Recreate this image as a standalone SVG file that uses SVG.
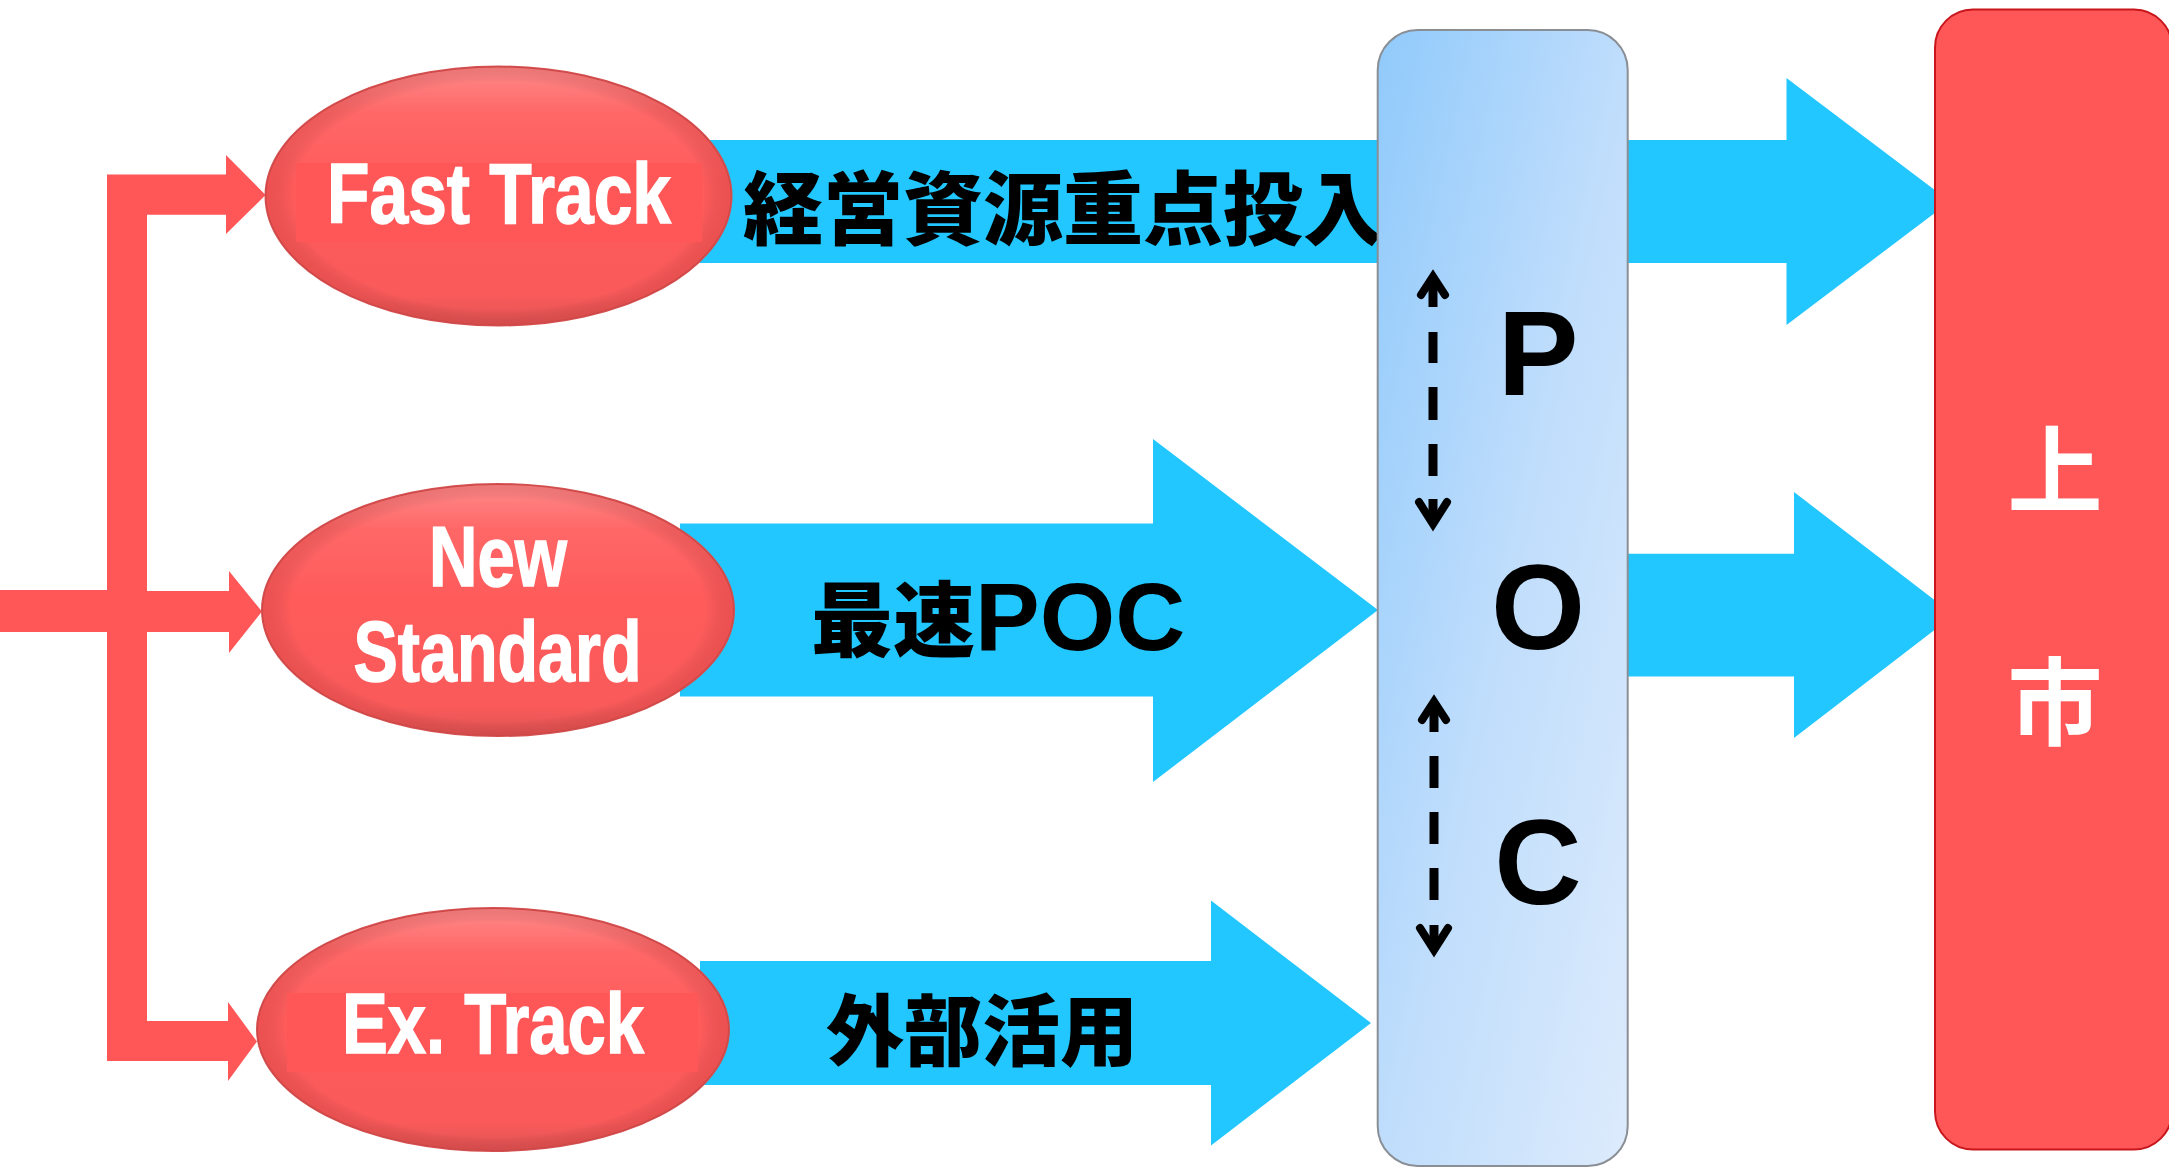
<svg xmlns="http://www.w3.org/2000/svg" width="2169" height="1168" viewBox="0 0 2169 1168">
  <defs>
    <linearGradient id="ellGrad" x1="0" y1="0" x2="0" y2="1">
      <stop offset="0" stop-color="#FF8A8A"/>
      <stop offset="0.18" stop-color="#FF6767"/>
      <stop offset="0.45" stop-color="#FF5B5B"/>
      <stop offset="0.88" stop-color="#FA5A5A"/>
      <stop offset="1" stop-color="#E25454"/>
    </linearGradient>
    <radialGradient id="ellEdge" cx="0.5" cy="0.5" r="0.5">
      <stop offset="0.88" stop-color="#000" stop-opacity="0"/>
      <stop offset="1" stop-color="#A02020" stop-opacity="0.18"/>
    </radialGradient>
    <linearGradient id="pocGrad" x1="0" y1="0" x2="1" y2="1">
      <stop offset="0" stop-color="#90CAFB"/>
      <stop offset="0.5" stop-color="#BFDDFC"/>
      <stop offset="1" stop-color="#DDEBFC"/>
    </linearGradient>
    <style>
      .red { fill: #FF5757; }
      .blue { fill: #22C7FF; }
      .ell { fill: url(#ellGrad); stroke: #D65050; stroke-width: 2; }
      .ellEdge { fill: url(#ellEdge); }
      .tbg { fill: #FF5757; }
      .lbl { font-family: "Liberation Sans Narrow", "Liberation Sans", Arial, sans-serif; font-weight: bold; font-size: 86px; fill: #FFFFFF; stroke: #FFFFFF; stroke-width: 1.5; }
      .jp { font-family: "Noto Sans CJK JP", "Noto Sans CJK SC", sans-serif; font-weight: 900; fill: #000000; }
      .lat { font-family: "Liberation Sans", Arial, sans-serif; font-weight: bold; fill: #000000; }
      .poc { font-family: "Liberation Sans", Arial, sans-serif; font-weight: bold; font-size: 121px; fill: #000000; text-anchor: middle; }
      .jw { font-family: "Noto Sans CJK JP", "Noto Sans CJK SC", sans-serif; font-weight: bold; font-size: 95px; fill: #FFFFFF; text-anchor: middle; }
      .dash { stroke: #000; stroke-width: 9; fill: none; }
      .chev { stroke: #000; stroke-width: 8; fill: none; stroke-linecap: round; stroke-linejoin: miter; stroke-miterlimit: 6; }
    </style>
  </defs>

  <rect x="0" y="0" width="2169" height="1168" fill="#FFFFFF"/>

  <g id="connectors">
    <!-- red distribution bracket -->
    <path class="red" d="M107,174.5 H226 V155 L265.6,195 L226,234 V214.7 H147 V591 H229 V571 L262,611.5 L229,653 V632 H147 V1021 H228 V1002 L257,1041.5 L228,1081 V1061 H107 V632 H0 V590 H107 Z"/>
    <!-- blue block arrows -->
    <path id="arrow-fast" class="blue" d="M700,140 H1786.5 V78 L1950,201.5 L1786.5,325 V263 H700 Z"/>
    <path id="arrow-new" class="blue" d="M680,523.5 H1153 V439 L1378,610 L1153,782 V696.5 H680 Z"/>
    <path id="arrow-ex" class="blue" d="M700,961 H1211 V900.5 L1371,1023 L1211,1145.5 V1085 H700 Z"/>
    <path id="arrow-poc" class="blue" d="M1620,553.7 H1794 V492 L1954,615 L1794,738 V676.6 H1620 Z"/>
    <!-- arrow labels -->
    <text class="jp" x="743" y="238" font-size="80">経営資源重点投入</text>
    <text x="811" y="650"><tspan class="jp" font-size="82">最速</tspan><tspan class="lat" font-size="97">POC</tspan></text>
    <text class="jp" x="826" y="1060" font-size="78">外部活用</text>
  </g>

  <g id="node-fast-track">
    <ellipse class="ell" cx="498.5" cy="196" rx="233" ry="129.5"/>
    <ellipse class="ellEdge" cx="498.5" cy="196" rx="233" ry="129.5"/>
    <rect class="tbg" x="296" y="163" width="406" height="79"/>
    <text class="lbl" x="499" y="222.7" text-anchor="middle" textLength="344" lengthAdjust="spacingAndGlyphs">Fast Track</text>
  </g>

  <g id="node-new-standard">
    <ellipse class="ell" cx="498" cy="610" rx="236" ry="126"/>
    <ellipse class="ellEdge" cx="498" cy="610" rx="236" ry="126"/>
    <text class="lbl" x="498" y="585.5" text-anchor="middle" textLength="138" lengthAdjust="spacingAndGlyphs">New</text>
    <text class="lbl" x="497.5" y="681" text-anchor="middle" textLength="288" lengthAdjust="spacingAndGlyphs">Standard</text>
  </g>

  <g id="node-ex-track">
    <ellipse class="ell" cx="493" cy="1029.5" rx="236" ry="121.5"/>
    <ellipse class="ellEdge" cx="493" cy="1029.5" rx="236" ry="121.5"/>
    <rect class="tbg" x="287" y="993" width="411" height="79"/>
    <text class="lbl" x="493" y="1053" text-anchor="middle" textLength="302" lengthAdjust="spacingAndGlyphs">Ex. Track</text>
  </g>

  <g id="node-poc">
    <rect x="1377.7" y="30" width="250" height="1136" rx="40" ry="40" fill="url(#pocGrad)" stroke="#8A8F96" stroke-width="2"/>
    <text class="poc" x="1538" y="395">P</text>
    <text class="poc" x="1538" y="649">O</text>
    <text class="poc" x="1538" y="904">C</text>
  </g>

  <g id="node-listing">
    <rect x="1935" y="9.5" width="237" height="1140" rx="38" ry="38" fill="#FF5757" stroke="#C8161C" stroke-width="2"/>
    <text class="jw" x="2055" y="506">上</text>
    <text class="jw" x="2055" y="738">市</text>
  </g>

  <g id="poc-links">
    <g>
      <path class="chev" d="M1421,295 L1433,276.5 L1445,295"/>
      <path class="dash" d="M1433,280 V307 M1433,332 V363 M1433,387 V420 M1433,444 V476 M1433,499 V520"/>
      <path class="chev" d="M1419,502 L1433,524 L1447,502"/>
    </g>
    <g>
      <path class="chev" d="M1422,720 L1434,701.5 L1446,720"/>
      <path class="dash" d="M1434,705 V732 M1434,756 V788 M1434,812 V844 M1434,868 V900 M1434,925 V945"/>
      <path class="chev" d="M1420,928 L1434,950 L1448,928"/>
    </g>
  </g>
</svg>
